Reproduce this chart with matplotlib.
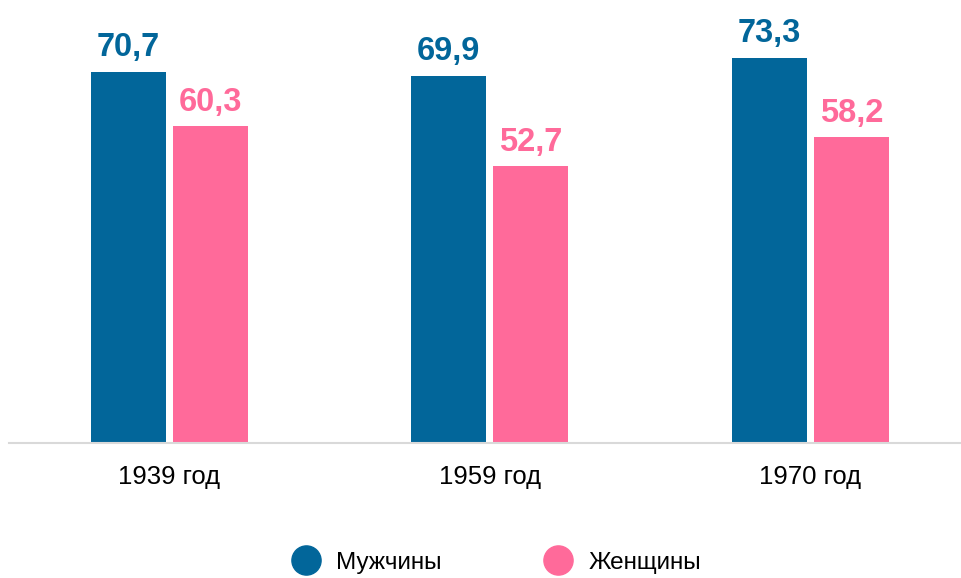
import numpy as np
import matplotlib
matplotlib.use('Agg')
import matplotlib.pyplot as plt
from matplotlib.lines import Line2D

years = ['1939 год', '1959 год', '1970 год']
men = [70.7, 69.9, 73.3]
women = [60.3, 52.7, 58.2]
series_names = ['Мужчины', 'Женщины']

BLUE = '#02669A'
PINK = '#FF6A9A'

plt.rcParams['font.family'] = ['Liberation Sans', 'DejaVu Sans']

fig = plt.figure(figsize=(9.62, 5.78), dpi=100)
ax = fig.add_axes([9 / 962, 135 / 578, 953 / 962, 443 / 578])

x = np.arange(len(years))
w = 0.234
off = 0.128
b1 = ax.bar(x - off, men, width=w, color=BLUE)
b2 = ax.bar(x + off, women, width=w, color=PINK)

ax.set_xlim(-0.5, -0.5 + 953 / 320.5)
ax.set_ylim(0, 443 / 5.25)

# value labels above bars, comma as decimal separator
for bars, vals, col in [(b1, men, BLUE), (b2, women, PINK)]:
    for rect, v in zip(bars, vals):
        ax.annotate(f'{v:.1f}'.replace('.', ','),
                    (rect.get_x() + rect.get_width() / 2, v),
                    xytext=(0, 17.5), textcoords='offset points',
                    ha='center', va='center', fontsize=23.5,
                    fontweight='bold', color=col)

for s in ['top', 'right', 'left']:
    ax.spines[s].set_visible(False)
ax.spines['bottom'].set_color('#d9d9d9')
ax.spines['bottom'].set_linewidth(1.5)
ax.set_yticks([])
ax.set_xticks(x)
ax.set_xticklabels(years, fontsize=18.5)
ax.tick_params(axis='x', length=0, pad=16)

handles = [Line2D([], [], marker='o', linestyle='', markersize=21,
                  markerfacecolor=c, markeredgecolor=c) for c in (BLUE, PINK)]
fig.legend(handles, series_names, loc='center', bbox_to_anchor=(0.517, 0.026),
           ncol=2, frameon=False, fontsize=17.5, handletextpad=0.75,
           columnspacing=4.3, handlelength=1.0)

fig.savefig('out.png', dpi=100)
